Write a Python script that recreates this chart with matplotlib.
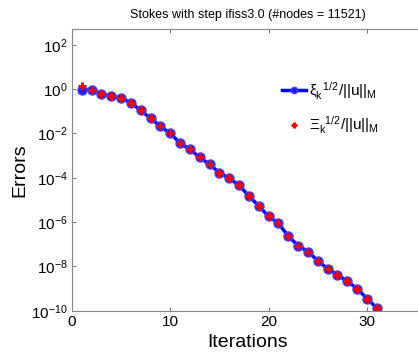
import matplotlib
matplotlib.use('Agg')
import matplotlib.pyplot as plt
import matplotlib.ticker as mticker

plt.rcParams['font.family'] = ['Liberation Sans', 'DejaVu Sans']
plt.rcParams['mathtext.fontset'] = 'custom'
plt.rcParams['mathtext.rm'] = 'Liberation Sans'
plt.rcParams['mathtext.it'] = 'Liberation Sans'
plt.rcParams['mathtext.sf'] = 'Liberation Sans'

# Error estimates per iteration
iterations = list(range(1, 32))
xi_err = [0.95, 0.90, 0.62, 0.47, 0.41, 0.24, 0.11, 4.8e-2, 2.1e-2, 1.0e-2,
          3.7e-3, 1.9e-3, 8.3e-4, 4.0e-4, 1.7e-4, 9.3e-5, 4.6e-5, 1.5e-5,
          5.4e-6, 1.8e-6, 8.9e-7, 2.3e-7, 8.7e-8, 4.7e-8, 1.8e-8, 7.8e-9,
          4.3e-9, 2.1e-9, 1.0e-9, 3.5e-10, 1.35e-10]
Xi_err = [1.4] + xi_err[1:]

fig = plt.figure(figsize=(4.18, 3.53), dpi=100)
ax = fig.add_axes([0.1722, 0.1198, 0.8397, 0.797])

ax.semilogy(iterations, xi_err, '-o', color='#0000ff', lw=2.5, ms=6.5,
            mfc='#2020e0', mec='#4040ff', mew=1,
            label=r'$\xi_k^{\ \ 1/2}/||u||_M$')
ax.semilogy(iterations, Xi_err, '+', color='#ff0000', ms=6, mew=2.2,
            label=r'$\Xi_k^{\ \ 1/2}/||u||_M$')

ax.set_xlim(0, 35.7)
ax.set_ylim(1e-10, 10**2.7)
ax.set_xticks([0, 10, 20, 30])
ax.set_yticks([1e2, 1e0, 1e-2, 1e-4, 1e-6, 1e-8, 1e-10])
ax.yaxis.set_minor_locator(mticker.NullLocator())
ax.tick_params(direction='in', length=3, width=0.6, color='#555555',
               top=True, right=True, labelsize=11, pad=3)
for s in ax.spines.values():
    s.set_color('#888888')
    s.set_linewidth(0.8)

ax.set_title('Stokes with step ifiss3.0 (#nodes = 11521)', fontsize=9, pad=8)
ax.set_xlabel('Iterations', fontsize=14, labelpad=4)
ax.set_ylabel('Errors', fontsize=14, labelpad=2)

ax.legend(loc='upper left', bbox_to_anchor=(274 / 418, 1 - 72 / 353),
          bbox_transform=fig.transFigure, frameon=False, fontsize=11,
          handlelength=1.6, handletextpad=0.2, labelspacing=0.85,
          borderpad=0, markerscale=0.7)

fig.savefig('out.png', dpi=100)
